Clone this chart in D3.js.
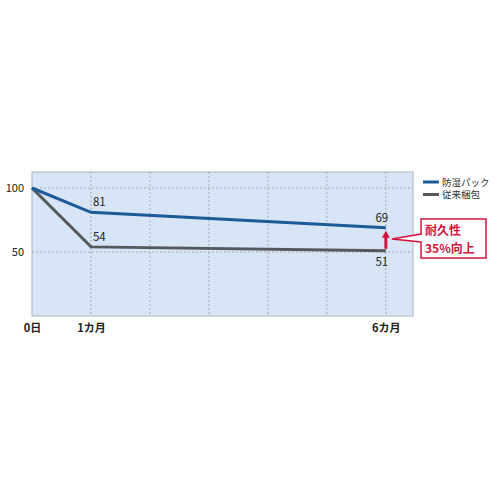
<!DOCTYPE html>
<html><head><meta charset="utf-8">
<script src="https://cdn.jsdelivr.net/npm/d3@7"></script>
<style>body{margin:0;background:#fff}svg{display:block}</style>
</head><body>
<script>
const months = [0, 1, 6];
const xTickLabels = ["0日", "1カ月", "6カ月"];
const gridMonths = [1, 2, 3, 4, 5, 6];
const yTicks = [50, 100];
const seriesNames = ["防湿パック", "従来梱包"];
const moistureProof = [100, 81, 69];
const conventional = [100, 54, 51];
const colors = ["#1c5a98", "#55595e"];
const annotationLines = ["耐久性", "35%向上"];

const W = 500, H = 500;
const svg = d3.select("body").append("svg").attr("width", W).attr("height", H);
const font = "'Noto Sans CJK JP', 'Noto Sans', sans-serif";

const x = d3.scaleLinear().domain([0, 6.46]).range([32, 413]);
const y = d3.scaleLinear().domain([0, 112.5]).range([316, 172]);

// plot background
svg.append("rect").attr("x", x(0)).attr("y", y(112.5)).attr("width", x(6.46) - x(0)).attr("height", y(0) - y(112.5))
  .attr("fill", "#d7e5f6").attr("stroke", "#aab4c0").attr("stroke-width", 1);

// grid
svg.append("g").selectAll("line").data(gridMonths).join("line")
  .attr("x1", d => x(d)).attr("x2", d => x(d)).attr("y1", y(112.5)).attr("y2", y(0))
  .attr("stroke", "#a3abb6").attr("stroke-width", 1).attr("stroke-dasharray", "2,2");
svg.append("g").selectAll("line").data(yTicks).join("line")
  .attr("x1", x(0)).attr("x2", x(6.46)).attr("y1", d => y(d)).attr("y2", d => y(d))
  .attr("stroke", "#a3abb6").attr("stroke-width", 1).attr("stroke-dasharray", "2,2");

// y axis labels
const yAxis = d3.axisLeft(y).tickValues(yTicks).tickSize(0).tickPadding(8);
const gy = svg.append("g").attr("transform", `translate(${x(0)},0)`).call(yAxis);
gy.select(".domain").remove();
gy.selectAll("text").attr("font-family", font).attr("font-size", 11).attr("fill", "#222");

// x axis labels
const xAxis = d3.axisBottom(x).tickValues(months).tickFormat((d, i) => xTickLabels[i]).tickSize(0).tickPadding(8);
const gx = svg.append("g").attr("transform", `translate(0,${y(0)})`).call(xAxis);
gx.select(".domain").remove();
gx.selectAll("text").attr("font-family", font).attr("font-size", 11).attr("font-weight", "bold").attr("fill", "#222");

// lines
const line = d3.line().x((d, i) => x(months[i])).y(d => y(d));
[conventional, moistureProof].forEach((s, k) => {
  svg.append("path").datum(s).attr("d", line).attr("fill", "none")
    .attr("stroke", k === 0 ? colors[1] : colors[0]).attr("stroke-width", 3).attr("stroke-linejoin", "miter");
});

// data labels
const lab = (t, xx, yy, anchor) => svg.append("text").attr("x", xx).attr("y", yy).attr("text-anchor", anchor)
  .attr("font-family", font).attr("font-size", 11.5).attr("fill", "#222").text(t);
lab(moistureProof[1], x(months[1]) + 2, y(moistureProof[1]) - 6, "start");
lab(conventional[1], x(months[1]) + 2, y(conventional[1]) - 6, "start");
lab(moistureProof[2], x(months[2]) - 4, y(moistureProof[2]) - 6, "middle");
lab(conventional[2], x(months[2]) - 4, y(conventional[2]) + 15, "middle");

// arrow
const red = "#d0143c";
const ax = x(months[2]);
svg.append("line").attr("x1", ax).attr("x2", ax).attr("y1", y(conventional[2]) - 2).attr("y2", y(moistureProof[2]) + 9)
  .attr("stroke", red).attr("stroke-width", 3);
svg.append("path").attr("d", `M${ax - 4},${y(moistureProof[2]) + 10} L${ax},${y(moistureProof[2]) + 3} L${ax + 4},${y(moistureProof[2]) + 10} Z`)
  .attr("fill", red);

// callout box
const bx = 421, by = 219, bw = 65, bh = 39, ty = 239;
svg.append("path")
  .attr("d", `M${bx},${by} H${bx + bw} V${by + bh} H${bx} V${ty + 3} L${ax + 6},${ty} L${bx},${ty - 5} Z`)
  .attr("fill", "#fff").attr("stroke", red).attr("stroke-width", 1.5);
annotationLines.forEach((t, i) => {
  svg.append("text").attr("x", bx + 4).attr("y", by + 16 + i * 17.8).attr("font-family", font)
    .attr("font-size", 12).attr("font-weight", "bold").attr("fill", red).text(t);
});

// legend
seriesNames.forEach((n, i) => {
  const ly = 182 + i * 12.5;
  svg.append("line").attr("x1", 423).attr("x2", 439).attr("y1", ly).attr("y2", ly)
    .attr("stroke", colors[i]).attr("stroke-width", 3);
  svg.append("text").attr("x", 442).attr("y", ly + 3.5).attr("font-family", font).attr("font-size", 9.5)
    .attr("fill", "#333").text(n);
});
</script>
</body></html>
